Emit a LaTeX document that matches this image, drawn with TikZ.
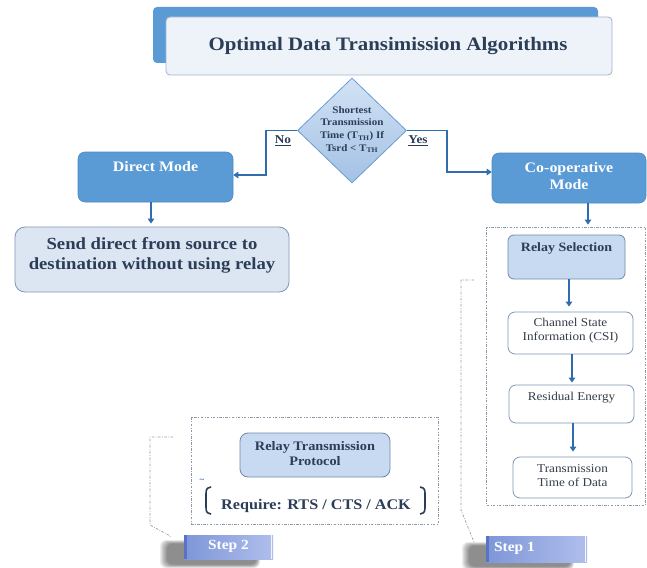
\documentclass[tikz,border=0pt]{standalone}
\usepackage{fontspec}
\setmainfont{Liberation Serif}[FakeStretch=1.1]
\usetikzlibrary{shapes.geometric,arrows.meta,shadows.blur}
\definecolor{boxblue}{HTML}{5B9BD5}
\definecolor{boxedge}{HTML}{4F88C2}
\definecolor{arrowc}{HTML}{2F6DB0}
\definecolor{navy}{HTML}{2B3D57}
\definecolor{lightfill}{HTML}{C7DAF1}
\definecolor{paleback}{HTML}{DCE6F2}
\definecolor{edgegray}{HTML}{7F98B5}
\definecolor{dashc}{HTML}{8C9BAA}
\definecolor{stepl}{HTML}{7E96D8}
\definecolor{stepr}{HTML}{AFBEEC}
\definecolor{stepedge}{HTML}{5873C4}
\definecolor{titlefront}{HTML}{EEF3FA}
\definecolor{titleedge}{HTML}{9FB3CB}
\definecolor{diatop}{HTML}{D2E2F4}
\definecolor{diabot}{HTML}{A3C1E5}
\definecolor{diaedge}{HTML}{6B9BD1}
\definecolor{plaintext}{HTML}{363E4A}
\newcommand\myfs[2]{\fontsize{#1}{#2}\selectfont}
\begin{document}
\begin{tikzpicture}[x=1pt,y=-1pt,
  bluebox/.style={draw=boxedge, fill=boxblue, rounded corners=7pt, line width=0.6pt},
  palebox/.style={draw=edgegray, fill=paleback, rounded corners=10pt, line width=0.8pt},
  lightbox/.style={draw=edgegray!90!black, fill=lightfill, rounded corners=6pt, line width=0.8pt},
  whitebox/.style={draw=edgegray, fill=white, rounded corners=7pt, line width=0.8pt},
  groupbox/.style={draw=dashc, line width=0.7pt, dash pattern=on 2.5pt off 1.5pt on 0.7pt off 1.5pt},
  dashline/.style={draw=dashc, line width=0.7pt, dash pattern=on 2.5pt off 1.5pt on 0.7pt off 1.5pt},
  arr/.style={draw=arrowc, line width=1.5pt, -{Triangle[length=5pt,width=6.5pt]}},
  whitebold/.style={text=white, font=\myfs{14.5}{17}\bfseries, align=center},
  navybold/.style={text=navy, font=\myfs{12.7}{15}\bfseries, align=center},
  plain/.style={text=plaintext, font=\myfs{12}{13.5}, align=center},
  shadowblob/.style={fill=black!75, draw=none, opacity=0.55},
  stepbox/.style={left color=stepl, right color=stepr, draw=none},
  steptext/.style={text=white, font=\myfs{14}{16}\bfseries}
]
\useasboundingbox (0,0) rectangle (647,567);

% title
\node[fill=boxblue, rounded corners=4pt, minimum width=445pt, minimum height=56pt, inner sep=0pt] (tback) at (375.5,35) {};
\node[fill=titlefront, draw=titleedge, line width=0.8pt, rounded corners=4pt, minimum width=446pt, minimum height=58pt, inner sep=0pt] (tfront) at (389,46) {};
\node[text=navy, font=\myfs{19}{22}\bfseries] (title) at (388,46) {Optimal Data Transimission Algorithms};

% decision
\node[diamond, draw=diaedge, line width=0.8pt, top color=diatop, bottom color=diabot, minimum width=109pt, minimum height=105pt, inner sep=0pt] (dia) at (352,130.5) {};
\node[text=navy, font=\myfs{10}{12.7}\bfseries, align=center] (diat) at (352,129.5) {Shortest\\Transmission\\Time (T\textsubscript{TH}) If\\Tsrd < T\textsubscript{TH}};

% direct mode
\node[bluebox, minimum width=155pt, minimum height=50pt, inner sep=0pt] (direct) at (155.5,177) {};
\node[whitebold] (directT) at (155.5,167) {Direct Mode};
\node[palebox, minimum width=274pt, minimum height=65pt, inner sep=0pt] (send) at (152,259.5) {};
\node[text=navy, font=\myfs{17}{20}\bfseries, align=center] (sendT) at (152,255) {Send direct from source to\\destination without using relay};

% cooperative mode
\node[bluebox, minimum width=154pt, minimum height=50pt, inner sep=0pt] (coop) at (569,178) {};
\node[whitebold] (coopT) at (569,176) {Co-operative\\Mode};

% connectors from decision
\draw[arr] (dia.west) -| (266,175) -- (direct.east |- 266,175);
\node[text=navy, font=\myfs{12}{14}\bfseries] (no) at (283,141) {\underline{No}};
\draw[arr] (dia.east) -| (447,172) -- (coop.west |- 447,172);
\node[text=navy, font=\myfs{12}{14}\bfseries] (yes) at (418,141) {\underline{Yes}};

\draw[arr] (direct.south -| 151,0) -- ([yshift=3pt]send.north -| 151,0);

% step 1 group
\node[groupbox, minimum width=159pt, minimum height=278pt, inner sep=0pt] (g1) at (566,366) {};
\draw[arr] (coop.south -| 588,0) -- ([yshift=2pt]g1.north -| 588,0);

\node[lightbox, minimum width=117pt, minimum height=44pt, inner sep=0pt] (rs) at (566.5,257) {};
\node[navybold] (rsT) at (566.5,248) {Relay Selection};
\node[whitebox, minimum width=125pt, minimum height=42pt, inner sep=0pt] (csi) at (570.5,333) {};
\node[plain] (csiT) at (570.5,330.5) {Channel State\\Information (CSI)};
\node[whitebox, minimum width=125pt, minimum height=38pt, inner sep=0pt] (re) at (571.5,404) {};
\node[plain] (reT) at (571.5,398) {Residual Energy};
\node[whitebox, minimum width=119pt, minimum height=41pt, inner sep=0pt] (tt) at (572.5,477.5) {};
\node[plain] (ttT) at (572.5,475.5) {Transmission\\Time of Data};

\draw[arr, line width=2pt] (rs.south -| 569,0) -- ([yshift=5pt]csi.north -| 569,0);
\draw[arr, line width=2pt] (csi.south -| 572,0) -- ([yshift=2pt]re.north -| 572,0);
\draw[arr, line width=2pt] (re.south -| 573,0) -- ([yshift=5pt]tt.north -| 573,0);

% step 1 label with soft shadow
\begin{scope}
  \foreach \k in {1,...,8}{
    \fill[black, opacity=0.07, rounded corners=6pt] (470-\k,546-0.5*\k) rectangle (570+0.5*\k,566+0.5*\k);
  }
\end{scope}
\node[stepbox, minimum width=101pt, minimum height=26pt, inner sep=0pt] (s1) at (536.5,549) {};
\draw[stepedge, line width=2.5pt] (s1.north west) ++(1.5,0) -- ([xshift=1.5pt]s1.south west);
\draw[white!85!stepr, line width=0.8pt] ([xshift=-2pt]s1.north east) -- ([xshift=-2pt]s1.south east);
\node[steptext] (s1T) at (514.5,548) {Step 1};
\coordinate (b1a) at (474,280);
\coordinate (b1b) at (474,542);
\draw[dashline] (b1a) -- (461,280) -- (461,510) -- (b1b);

% step 2 group
\node[groupbox, minimum width=247pt, minimum height=107pt, inner sep=0pt] (g2) at (314.5,470.5) {};
\node[lightbox, minimum width=150pt, minimum height=44pt, inner sep=0pt, rounded corners=8pt] (rtp) at (315,455) {};
\node[navybold, font=\myfs{13}{15}\bfseries] (rtpT) at (315,453.5) {Relay Transmission\\Protocol};
\node[text=navy, font=\myfs{14.7}{17}\bfseries] (req) at (316,506) {Require: RTS / CTS / ACK};
\draw[navy, line width=1.6pt] (211,487) .. controls (206,488) and (206,490) .. (206,495) -- (206,506) .. controls (206,511) and (206,513) .. (211,514);
\draw[navy, line width=1.6pt] (420,487) .. controls (425,488) and (425,490) .. (425,495) -- (425,506) .. controls (425,511) and (425,513) .. (420,514);
\node[text=arrowc, font=\myfs{8}{9}\bfseries, inner sep=0pt] (sq) at (202,481) {\char"007E};

% step 2 label with soft shadow
\begin{scope}
  \foreach \k in {1,...,8}{
    \fill[black, opacity=0.07, rounded corners=6pt] (168-\k,544-0.5*\k) rectangle (256+0.5*\k,564+0.5*\k);
  }
\end{scope}
\node[stepbox, minimum width=89pt, minimum height=24pt, inner sep=0pt] (s2) at (228.5,547) {};
\draw[stepedge, line width=2.5pt] (s2.north west) ++(1.5,0) -- ([xshift=1.5pt]s2.south west);
\draw[white!85!stepr, line width=0.8pt] ([xshift=-2pt]s2.north east) -- ([xshift=-2pt]s2.south east);
\node[steptext] (s2T) at (228.5,546) {Step 2};
\coordinate (b2a) at (173,437);
\coordinate (b2b) at (172,537);
\draw[dashline] (b2a) -- (150,437) -- (150,525) -- (b2b);
\end{tikzpicture}
\end{document}
